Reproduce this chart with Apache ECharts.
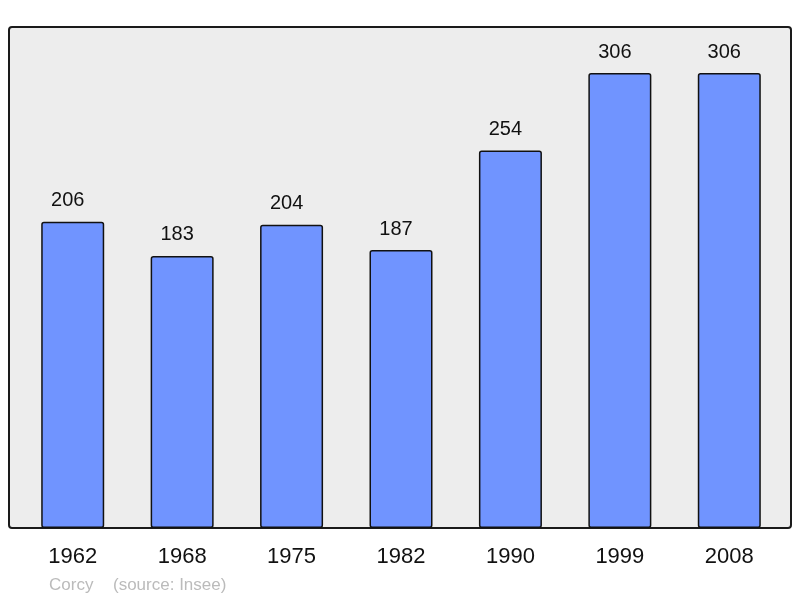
<!DOCTYPE html>
<html>
<head>
<meta charset="utf-8">
<script src="https://cdn.jsdelivr.net/npm/echarts@6/dist/echarts.min.js"></script>
<style>
html,body{margin:0;padding:0;background:#fff;}
#chart{width:800px;height:598px;}
</style>
</head>
<body>
<div id="chart"></div>
<script>
// population par année
var years = ['1962', '1968', '1975', '1982', '1990', '1999', '2008'];
var population = [206, 183, 204, 187, 254, 306, 306];

var myChart = echarts.init(document.getElementById('chart'));
var option = {
	animation: false,
	backgroundColor: '#ffffff',
	graphic: [
		{
			type: 'rect',
			z: -10,
			shape: {x: 9, y: 27, width: 782, height: 501, r: 3},
			style: {fill: '#ededed', stroke: '#1a1a1a', lineWidth: 2}
		},
		{
			type: 'text',
			x: 49, y: 585,
			style: {text: 'Corcy', fill: '#bbbbbb', verticalAlign: 'middle', font: '17px "Liberation Sans", Arial, sans-serif'}
		},
		{
			type: 'text',
			x: 113, y: 585,
			style: {text: '(source: Insee)', fill: '#bbbbbb', verticalAlign: 'middle', font: '17px "Liberation Sans", Arial, sans-serif'}
		}
	],
	grid: {left: 18, right: 16, top: 27, bottom: 70, containLabel: false},
	xAxis: {
		type: 'category',
		data: years,
		axisLine: {show: false},
		axisTick: {show: false},
		axisLabel: {
			color: '#111',
			fontSize: 22,
			fontFamily: '"Liberation Sans", Arial, sans-serif',
			margin: 18
		}
	},
	yAxis: {
		type: 'value',
		min: 0,
		max: 337,
		show: false,
		splitLine: {show: false}
	},
	series: [
		{
			type: 'bar',
			data: population,
			barWidth: 63,
			itemStyle: {
				color: '#7094ff',
				borderColor: '#111',
				borderWidth: 1.5,
				borderRadius: 2
			},
			label: {
				show: true,
				position: 'top',
				distance: 11,
				offset: [-5, 0],
				color: '#111',
				fontSize: 20,
				fontFamily: '"Liberation Sans", Arial, sans-serif'
			}
		}
	]
};
myChart.setOption(option);
</script>
</body>
</html>
